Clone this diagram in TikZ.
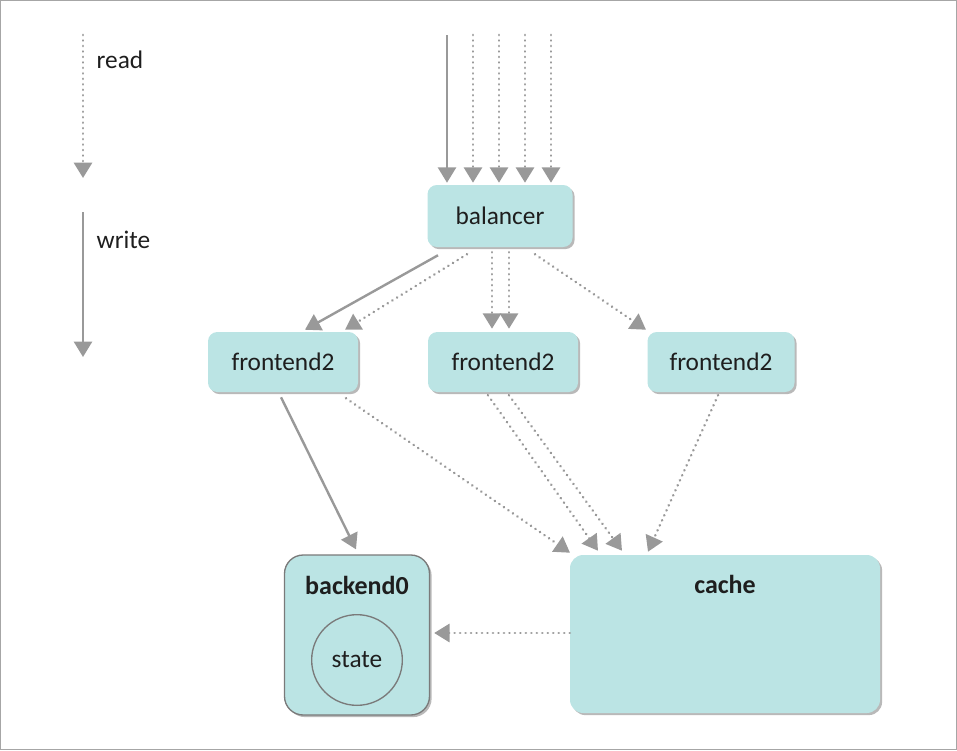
\documentclass[tikz,border=0pt]{standalone}
\usepackage{fontspec}
\setmainfont{Carlito}
\usetikzlibrary{arrows.meta,shadows,calc}
\definecolor{boxfill}{HTML}{BBE4E4}
\definecolor{flow}{HTML}{999999}
\definecolor{ink}{HTML}{1E1E1E}
\definecolor{rim}{HTML}{7A7A7A}
\begin{document}
\begin{tikzpicture}[x=0.75pt, y=-0.75pt,
  lbl/.style={text=ink, font=\fontsize{19}{22}\selectfont},
  bold/.style={lbl, font=\fontsize{19.5}{22}\selectfont\bfseries},
  box/.style={lbl, fill=boxfill, rounded corners=7pt, inner sep=0pt,
    drop shadow={shadow xshift=1.6pt, shadow yshift=-1.6pt, fill=black!50, opacity=0.55}},
  wr/.style={draw=flow, line width=1.8pt, -{Triangle[width=13.5pt,length=11.5pt]}},
  rd/.style={wr, line width=2.1pt, line cap=round, dash pattern=on 0.01pt off 4.1pt}
]
\useasboundingbox (0,0) rectangle (957,750);
\draw[black!35, line width=0.8pt] (0.5,0.5) rectangle (956.5,749.5);

% nodes
\node[box, minimum width=108.75pt, minimum height=46.5pt] (bal) at (500,216) {balancer};
\node[box, minimum width=112.5pt, minimum height=45pt] (fl) at (283,362) {frontend2};
\node[box, minimum width=112.5pt, minimum height=45pt] (fm) at (503,362) {frontend2};
\node[box, minimum width=110.25pt, minimum height=45pt] (fr) at (721,362) {frontend2};
\node[box, draw=rim, line width=1pt, rounded corners=14pt, minimum width=108.75pt, minimum height=120pt] (bk) at (357,635) {};
\node[bold] (bklbl) at (357,585) {backend0};
\node[lbl, circle, draw=rim, line width=1pt, minimum size=68pt, inner sep=0pt] (st) at (357,660) {state};
\node[box, rounded corners=10pt, minimum width=232.5pt, minimum height=118.5pt] (ca) at (725,634) {};
\node[bold] (calbl) at (725,584) {cache};

% legend
\coordinate (r0) at (83,35);
\coordinate (r1) at (83,178);
\coordinate (w0) at (83,212);
\coordinate (w1) at (83,357);
\draw[rd] (r0) -- (r1);
\draw[wr] (w0) -- (w1);
\node[lbl, anchor=west] (rdtxt) at (92,60) {read};
\node[lbl, anchor=west] (wrtxt) at (92,240) {write};

% incoming requests
\coordinate (t1) at (447,35);
\coordinate (t2) at (473,35);
\coordinate (t3) at (499,35);
\coordinate (t4) at (525,35);
\coordinate (t5) at (551,35);
\draw[wr] (t1) -- ($(bal.north)+(-53,-2)$);
\draw[rd] (t2) -- ($(bal.north)+(-27,-2)$);
\draw[rd] (t3) -- ($(bal.north)+(-1,-2)$);
\draw[rd] (t4) -- ($(bal.north)+(25,-2)$);
\draw[rd] (t5) -- ($(bal.north)+(51,-2)$);

% balancer to frontends
\draw[wr] ($(bal.south)+(-62,8)$) -- ($(fl.north)+(22,-2)$);
\draw[rd] ($(bal.south)+(-33,7)$) -- ($(fl.north)+(62,-2)$);
\draw[rd] ($(bal.south)+(-8,5)$) -- ($(fm.north)+(-11,-3)$);
\draw[rd] ($(bal.south)+(9,5)$) -- ($(fm.north)+(6,-3)$);
\draw[rd] ($(bal.south)+(35,7)$) -- ($(fr.north)+(-75,-2)$);

% frontends to backend and cache
\draw[wr] ($(fl.south)+(-2,5)$) -- ($(bk.north)+(-1,-5)$);
\draw[rd] ($(fl.south)+(63,6)$) -- ($(ca.north)+(-155,-2)$);
\draw[rd] ($(fm.south)+(-15,3)$) -- ($(ca.north)+(-127,-4)$);
\draw[rd] ($(fm.south)+(6,3)$) -- ($(ca.north)+(-103,-4)$);
\draw[rd] ($(fr.south)+(-3,3)$) -- ($(ca.north)+(-77,-3)$);

% cache to backend
\draw[rd] ($(ca.west)+(0,-1)$) -- ($(bk.east)+(4,-2)$);
\end{tikzpicture}
\end{document}
